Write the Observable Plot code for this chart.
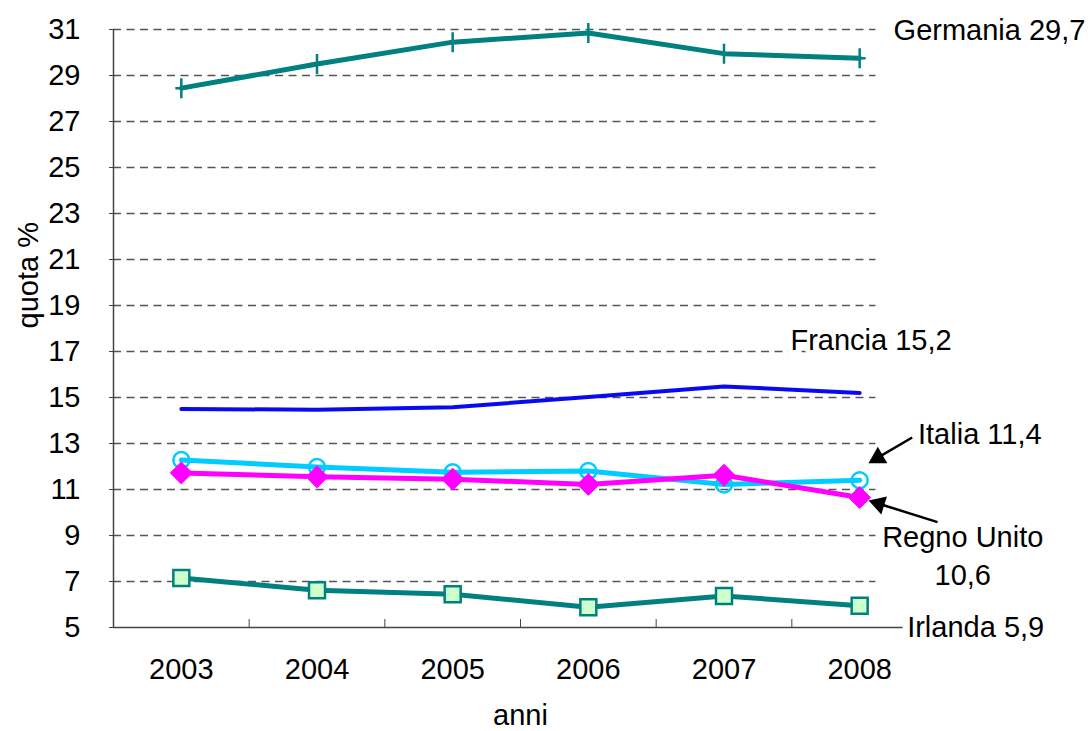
<!DOCTYPE html>
<html><head><meta charset="utf-8">
<script src="https://cdn.jsdelivr.net/npm/d3@7"></script>
<script src="https://cdn.jsdelivr.net/npm/@observablehq/plot@0.6"></script>
<style>body{margin:0;background:#fff;}</style>
</head><body><div id="chart"></div>
<script>
// ---- data ----
const years = [2003, 2004, 2005, 2006, 2007, 2008];
const germania   = [28.45, 29.5, 30.45, 30.85, 29.95, 29.75];
const francia    = [14.5, 14.47, 14.58, 15.02, 15.48, 15.2];
const italia     = [12.28, 11.98, 11.75, 11.8, 11.22, 11.4];
const regnoUnito = [11.72, 11.55, 11.45, 11.22, 11.62, 10.65];
const irlanda    = [7.15, 6.62, 6.45, 5.88, 6.37, 5.95];
const yTicks = [5, 7, 9, 11, 13, 15, 17, 19, 21, 23, 25, 27, 29, 31];
const bandEdges = [2003.5, 2004.5, 2005.5, 2006.5, 2007.5];
// end labels (data coordinates)
const labelTexts = ["Germania 29,7", "Francia 15,2", "Italia 11,4", "Regno Unito", "10,6", "Irlanda 5,9"];
const labelX = [2008.25, 2007.49, 2008.43, 2008.76, 2008.76, 2008.35];
const labelY = [30.96, 17.48, 13.39, 8.91, 7.26, 5.0];
const labelAnchors = ["start", "start", "start", "middle", "middle", "start"];
// annotation arrows (data coordinates)
const arrowFromX = [2008.387, 2008.574];
const arrowFromY = [13.26, 9.58];
const arrowHeadX = [2008.134, 2008.142];
const arrowHeadY = [12.383, 10.38];
const arrowRotate = [240, 287.5];

// ---- build ----
const rows = (vals) => years.map((year, i) => ({year, value: vals[i]}));
const labels = labelTexts.map((t, i) => ({t, x: labelX[i], y: labelY[i], a: labelAnchors[i]}));
const arrows = arrowFromX.map((x, i) => ({x1: x, y1: arrowFromY[i], x2: arrowHeadX[i], y2: arrowHeadY[i], r: arrowRotate[i]}));

const plusSym = {draw(ctx, size) { const r = Math.sqrt(size / Math.PI); ctx.moveTo(-r * 0.6, 0); ctx.lineTo(r * 0.6, 0); ctx.moveTo(0, -r); ctx.lineTo(0, r); }};
const diamondSym = {draw(ctx, size) { const r = Math.sqrt(size / Math.PI); ctx.moveTo(0, -r); ctx.lineTo(r, 0); ctx.lineTo(0, r); ctx.lineTo(-r, 0); ctx.closePath(); }};
const squareSym = {draw(ctx, size) { const r = Math.sqrt(size / Math.PI); ctx.rect(-r, -r, 2 * r, 2 * r); }};

const teal = "#008080", blue = "#0A0AEE", cyan = "#00CCFF", magenta = "#FF00FF";
const FS = 29;
const textStyle = {x: "x", y: "y", text: "t", fontSize: FS, fill: "#000", stroke: "white", strokeWidth: 10, lineAnchor: "middle"};

const chart = Plot.plot({
  width: 1088,
  height: 731,
  marginLeft: 113,
  marginRight: 161,
  marginTop: 29,
  marginBottom: 104,
  style: {fontFamily: "'Liberation Sans', Arial, sans-serif", fontSize: FS + "px", color: "#000", background: "#fff"},
  x: {domain: [2002.5, 2008.5]},
  y: {domain: [5, 31]},
  marks: [
    Plot.ruleY(yTicks.filter(d => d > 5), {y: d => d, x1: 2002.5, x2: 2008.12, stroke: "#555", strokeWidth: 1.3, strokeDasharray: "8,5.5"}),
    Plot.ruleY([5], {x1: 2002.5, x2: 2008.32, stroke: "#444", strokeWidth: 1.5}),
    Plot.ruleX([2002.5], {stroke: "#444", strokeWidth: 1.5}),
    Plot.axisY({ticks: yTicks, tickSize: 4, tickPadding: 29, tickFormat: d => String(d), label: null, fontSize: FS, stroke: "#444"}),
    Plot.axisX({ticks: years, tickSize: 0, tickPadding: 31, tickFormat: d => String(d), label: null, fontSize: FS}),
    Plot.axisX({ticks: bandEdges, tickSize: 8, dy: -8, tickFormat: () => "", label: null, stroke: "#444"}),
    Plot.text(["quota %"], {frameAnchor: "left", dx: -85, rotate: -90, fontSize: FS}),
    Plot.text(["anni"], {frameAnchor: "bottom", dy: 97, fontSize: FS}),
    // lines
    Plot.line(rows(irlanda), {x: "year", y: "value", stroke: teal, strokeWidth: 5}),
    Plot.line(rows(francia), {x: "year", y: "value", stroke: blue, strokeWidth: 4}),
    Plot.line(rows(germania), {x: "year", y: "value", stroke: teal, strokeWidth: 5}),
    Plot.line(rows(italia), {x: "year", y: "value", stroke: cyan, strokeWidth: 5}),
    Plot.line(rows(regnoUnito), {x: "year", y: "value", stroke: magenta, strokeWidth: 5}),
    // markers
    Plot.dot(rows(germania), {x: "year", y: "value", symbol: plusSym, r: 10, stroke: teal, strokeWidth: 2.5, fill: "none"}),
    Plot.dot(rows(italia), {x: "year", y: "value", symbol: "circle", r: 8, stroke: cyan, strokeWidth: 2.5, fill: "none"}),
    Plot.dot(rows(regnoUnito), {x: "year", y: "value", symbol: diamondSym, r: 11, fill: magenta, stroke: magenta, strokeWidth: 1}),
    Plot.dot(rows(irlanda), {x: "year", y: "value", symbol: squareSym, r: 8, fill: "#CCFFCC", stroke: teal, strokeWidth: 2.5}),
    // labels
    Plot.text(labels.filter(d => d.a === "start"), {...textStyle, textAnchor: "start"}),
    Plot.text(labels.filter(d => d.a === "middle"), {...textStyle, textAnchor: "middle"}),
    // arrows
    Plot.link(arrows, {x1: "x1", y1: "y1", x2: "x2", y2: "y2", stroke: "#000", strokeWidth: 2.5}),
    Plot.dot(arrows, {x: "x2", y: "y2", symbol: "triangle", r: 7, rotate: "r", fill: "#000", stroke: "none"})
  ]
});
document.getElementById("chart").appendChild(chart);
</script>
</body></html>
